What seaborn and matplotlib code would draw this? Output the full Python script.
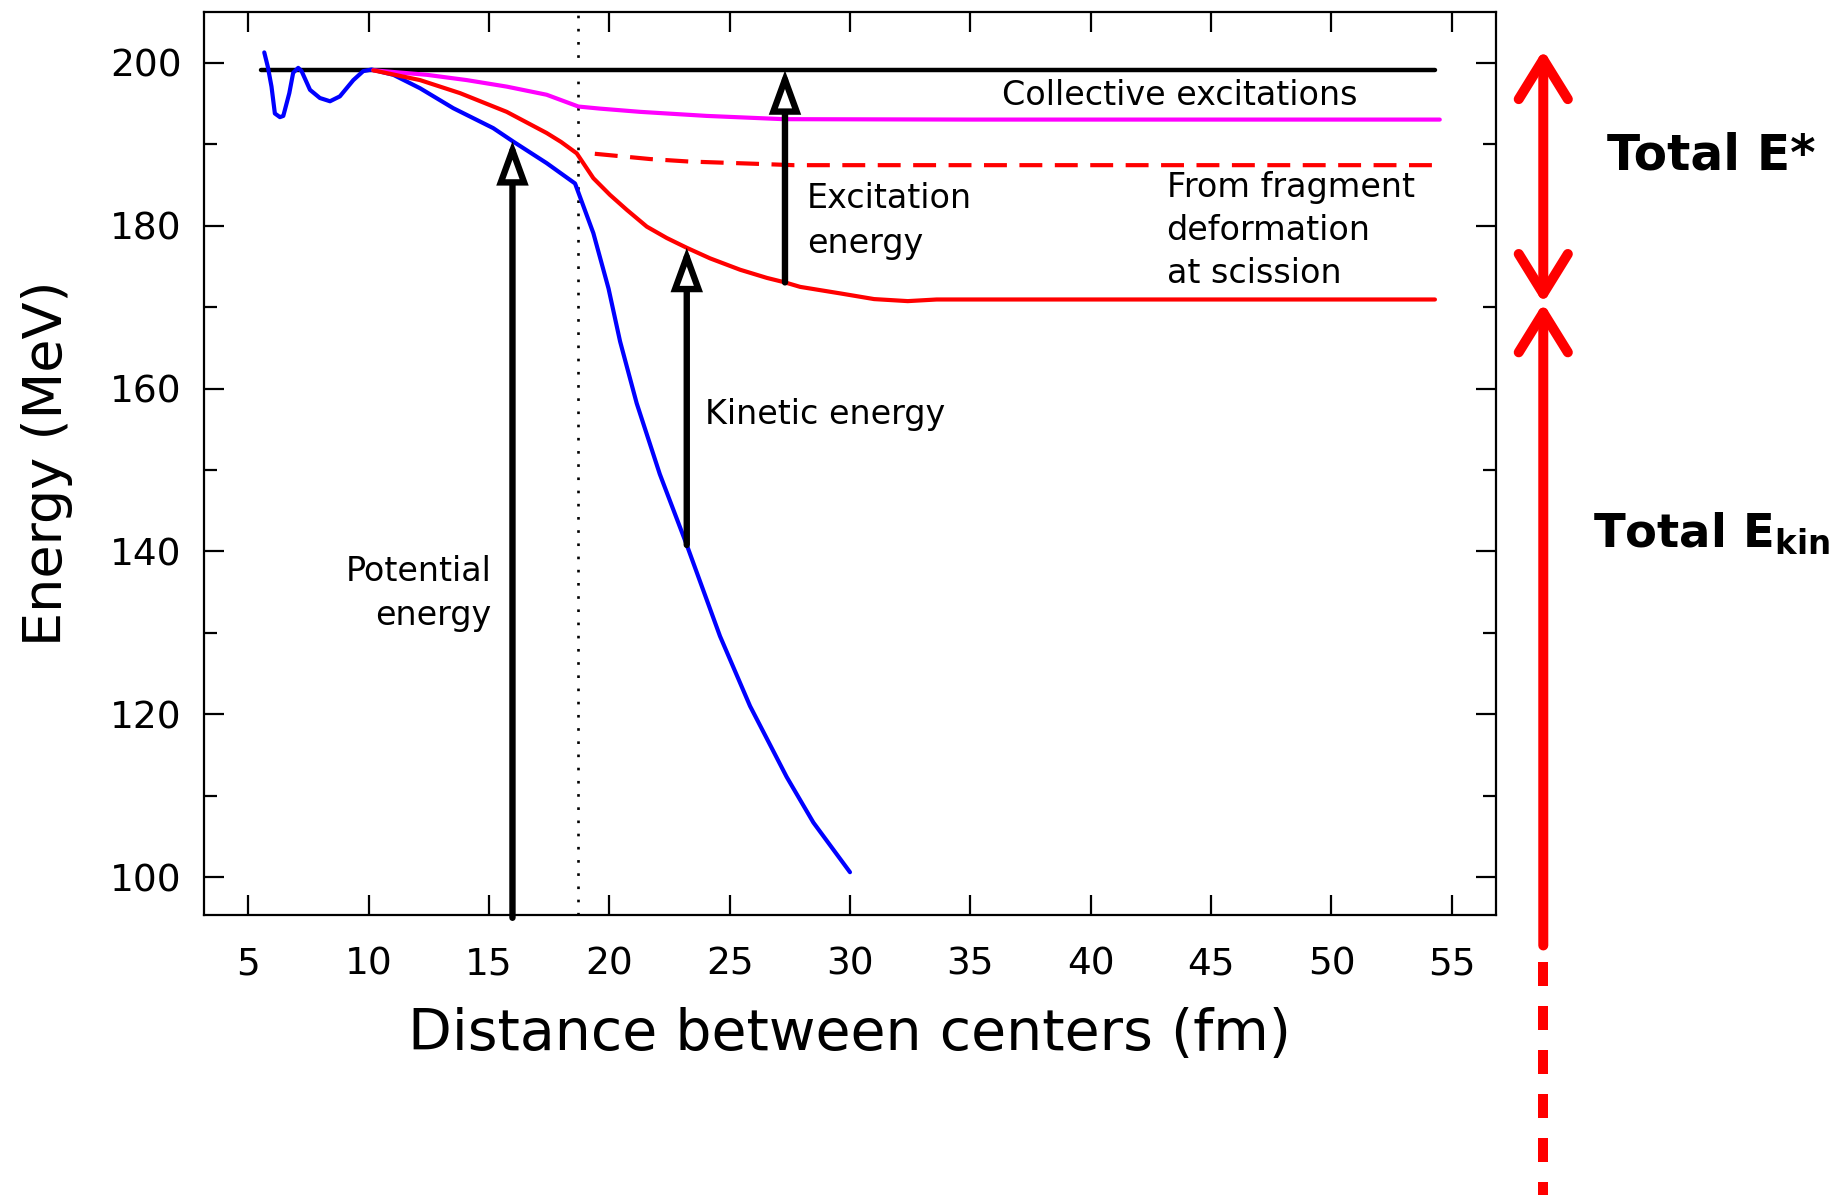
import matplotlib
matplotlib.use("Agg")
import matplotlib.pyplot as plt
from matplotlib.ticker import MultipleLocator
import seaborn as sns

# Potential energy along the path (blue)
pot_x = [5.67, 5.82, 5.97, 6.11, 6.32, 6.46, 6.71, 6.87, 7.08, 7.22, 7.57, 7.98,
         8.40, 8.81, 9.37, 9.78, 10.13, 11.03, 12.14, 13.52, 15.18, 16.01, 17.4,
         18.58, 19.34, 19.97, 20.45, 21.14, 22.1, 23.22, 24.6, 25.85,
         27.37, 28.48, 30.0]
pot_e = [201.3, 199.5, 197.1, 193.8, 193.35, 193.5, 196.3, 198.8, 199.4, 199.0,
         196.7, 195.7, 195.3, 195.9, 197.9, 199.0, 199.2, 198.55, 196.9, 194.45,
         192.0, 190.35, 187.7, 185.2, 179.1, 172.3, 165.8, 158.2, 149.5,
         140.8, 129.6, 121.0, 112.3, 106.7, 100.6]

# Level left after collective excitations (magenta)
coll_x = [10.2, 12.42, 14.08, 15.74, 17.4, 18.72, 19.6, 21.28, 24.05, 27.24, 35.0, 54.5]
coll_e = [199.1, 198.55, 197.9, 197.1, 196.1, 194.65, 194.4, 194.0, 193.5, 193.1,
          193.05, 193.05]

# Potential + kinetic energy (red, solid)
kin_x = [10.2, 12.14, 13.8, 15.74, 17.4, 18.0, 18.65, 19.34, 20.03, 20.73, 21.56,
         22.39, 23.22, 24.19, 25.44, 26.55, 27.3, 27.93, 29.59, 31.0, 32.4, 33.6,
         40.0, 54.3]
kin_e = [199.1, 197.9, 196.3, 194.0, 191.4, 190.3, 188.9, 185.85, 183.8, 181.96,
         179.9, 178.5, 177.3, 176.0, 174.6, 173.6, 173.05, 172.5, 171.7, 171.0,
         170.75, 170.95, 170.95, 170.95]

# Fragment deformation energy frozen at scission (red, dashed)
def_x = [19.4, 21.7, 23.29, 26.27, 27.65, 30.0, 40.0, 54.4]
def_e = [188.85, 188.2, 187.9, 187.6, 187.45, 187.45, 187.45, 187.45]

# Initial energy level
level_x = [5.52, 54.3]
level_e = [199.1, 199.1]

scission_x = 18.69

# Vertical arrows inside the plot: position, start, end
arrow_x = [15.98, 23.22, 27.3]
arrow_from = [95.0, 140.8, 173.05]
arrow_to = [190.4, 177.3, 199.1]

# Energy sharing arrows at the side
side_x = 58.8
estar_top = 201.6
split_e = 170.5
ekin_solid_end = 91.6
ekin_dash_start = 89.6
ekin_dash_end = 60.9

x_ticks = [5, 10, 15, 20, 25, 30, 35, 40, 45, 50, 55]
y_ticks = [100, 120, 140, 160, 180, 200]

sns.set_style("ticks")
plt.rcParams["font.family"] = ["DejaVu Sans"]
plt.rcParams["text.color"] = "black"
plt.rcParams["axes.labelcolor"] = "black"
plt.rcParams["xtick.color"] = "black"
plt.rcParams["ytick.color"] = "black"

fig = plt.figure(figsize=(18.36, 11.95), dpi=100)
ax = fig.add_axes([0.1109, 0.2347, 0.7041, 0.7555])

lw = 3.0
sns.lineplot(x=level_x, y=level_e, color="black", lw=3.2, sort=False, estimator=None, ax=ax)
sns.lineplot(x=pot_x, y=pot_e, color="#0000ff", lw=lw, sort=False, estimator=None, ax=ax)
sns.lineplot(x=coll_x, y=coll_e, color="#ff00ff", lw=lw, sort=False, estimator=None, ax=ax)
sns.lineplot(x=kin_x, y=kin_e, color="#ff0000", lw=lw, sort=False, estimator=None, ax=ax)
sns.lineplot(x=def_x, y=def_e, color="#ff0000", lw=lw, sort=False, estimator=None, ax=ax)
ax.lines[-1].set_dashes([5.5, 3.0])

ax.axvline(scission_x, color="black", lw=1.9, linestyle=(0, (1, 4)), zorder=1)

for x, a, b in zip(arrow_x, arrow_from, arrow_to):
    ax.annotate("", xy=(x, b), xytext=(x, a),
                arrowprops=dict(arrowstyle="-|>,head_length=1.15,head_width=0.42",
                                lw=4.6, fc="white", ec="black", shrinkA=0, shrinkB=0,
                                mutation_scale=20, joinstyle="miter"),
                annotation_clip=False)

# Side arrows: excitation and kinetic shares of the total energy
red_arrow = dict(lw=7.2, color="#ff0000", shrinkA=0, shrinkB=0,
                 mutation_scale=68, capstyle="round", joinstyle="round")
ax.annotate("", xy=(side_x, estar_top), xytext=(side_x, split_e),
            arrowprops=dict(arrowstyle="<->,head_length=0.42,head_width=0.26", **red_arrow),
            annotation_clip=False)
ax.annotate("", xy=(side_x, split_e), xytext=(side_x, ekin_solid_end),
            arrowprops=dict(arrowstyle="->,head_length=0.42,head_width=0.26", **red_arrow),
            annotation_clip=False)
ax.plot([side_x, side_x], [ekin_dash_start, ekin_dash_end], color="#ff0000",
        lw=7.2, dashes=[2.4, 2.0], solid_capstyle="butt", dash_capstyle="butt",
        clip_on=False)

txt = dict(fontsize=24, color="black")
ax.text(36.3, 195.97, "Collective excitations", ha="left", va="center", **txt)
for yy, s in zip([184.75, 179.4, 174.1], ["From fragment", "deformation", "at scission"]):
    ax.text(43.15, yy, s, ha="left", va="center", **txt)
for yy, s in zip([183.3, 177.85], ["Excitation", "energy"]):
    ax.text(28.2, yy, s, ha="left", va="center", **txt)
ax.text(23.98, 156.8, "Kinetic energy", ha="left", va="center", **txt)
for yy, s in zip([137.55, 132.1], ["Potential", "energy"]):
    ax.text(15.12, yy, s, ha="right", va="center", **txt)

ax.text(61.43, 188.6, "Total E*", ha="left", va="center", fontsize=35,
        fontweight="bold", clip_on=False)
ax.text(60.85, 142.15, r"Total E$_\mathbf{kin}$", ha="left", va="center", fontsize=33.5,
        fontweight="bold", clip_on=False)

ax.set_xlim(3.15, 56.85)
ax.set_ylim(95.4, 206.3)
ax.set_xticks(x_ticks)
ax.set_yticks(y_ticks)
ax.yaxis.set_minor_locator(MultipleLocator(10))

for sp in ax.spines.values():
    sp.set_linewidth(1.6)
    sp.set_color("black")
ax.tick_params(which="both", direction="in", top=True, right=True, width=1.6,
               color="black", labelcolor="black")
ax.tick_params(which="major", length=14.4)
ax.tick_params(which="minor", length=9.4)
ax.tick_params(axis="x", labelsize=27, pad=23)
ax.tick_params(axis="y", labelsize=27, pad=16)

ax.set_xlabel("Distance between centers (fm)", fontsize=41)
ax.set_ylabel("Energy (MeV)", fontsize=39)
ax.xaxis.set_label_coords(0.5, -0.102)
ax.yaxis.set_label_coords(-0.1014, 0.5)

fig.savefig("out.png", dpi=100)
